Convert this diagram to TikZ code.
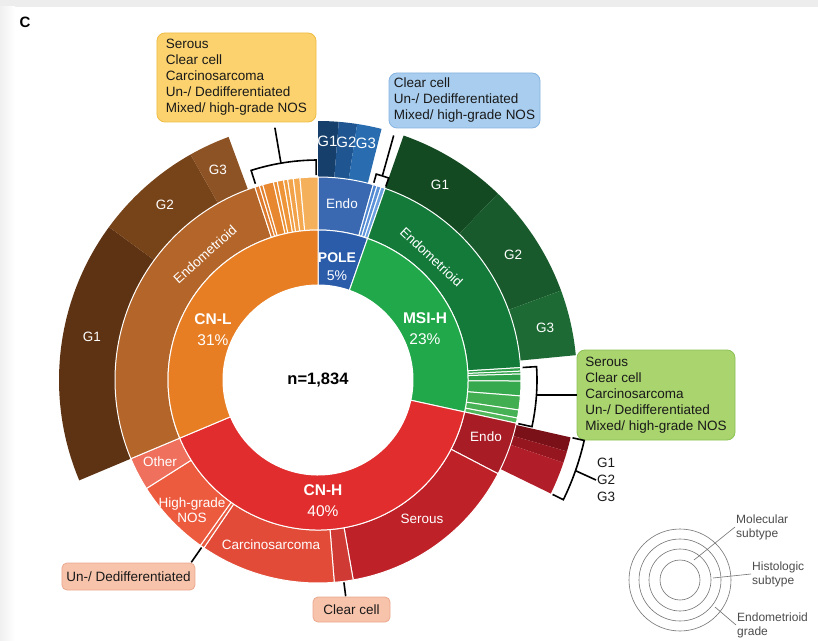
\documentclass[tikz,border=0pt]{standalone}
\usepackage{fontspec}
\setmainfont{Liberation Sans}
\usepackage{tikz}
\usetikzlibrary{positioning}
\definecolor{poleM}{HTML}{2A5CAA}
\definecolor{poleH}{HTML}{3A69B2}
\definecolor{poleA}{HTML}{4F86D0}
\definecolor{poleB}{HTML}{5B92D8}
\definecolor{poleC}{HTML}{6A9FE0}
\definecolor{poleGa}{HTML}{163F6B}
\definecolor{poleGb}{HTML}{1F5590}
\definecolor{poleGc}{HTML}{2A6CB0}
\definecolor{msiM}{HTML}{21A84B}
\definecolor{msiH}{HTML}{137A3A}
\definecolor{msiA}{HTML}{2E9E48}
\definecolor{msiB}{HTML}{32A34B}
\definecolor{msiC}{HTML}{2FA04A}
\definecolor{msiD}{HTML}{36A84D}
\definecolor{msiE}{HTML}{40AE51}
\definecolor{msiF}{HTML}{47B255}
\definecolor{msiG}{HTML}{50B75A}
\definecolor{msiGa}{HTML}{134A22}
\definecolor{msiGb}{HTML}{195A2C}
\definecolor{msiGc}{HTML}{1D6A34}
\definecolor{cnhM}{HTML}{E12D2D}
\definecolor{cnhEndo}{HTML}{A81C26}
\definecolor{cnhSer}{HTML}{BE2128}
\definecolor{cnhClear}{HTML}{D03A34}
\definecolor{cnhCarc}{HTML}{E24B37}
\definecolor{cnhUnd}{HTML}{E85A40}
\definecolor{cnhNos}{HTML}{ED5B3F}
\definecolor{cnhOther}{HTML}{EF705C}
\definecolor{cnhGa}{HTML}{7A1018}
\definecolor{cnhGb}{HTML}{961620}
\definecolor{cnhGc}{HTML}{B11D28}
\definecolor{cnlM}{HTML}{E87E23}
\definecolor{cnlH}{HTML}{B4662A}
\definecolor{cnlA}{HTML}{DD7A2E}
\definecolor{cnlB}{HTML}{E2822F}
\definecolor{cnlC}{HTML}{E78831}
\definecolor{cnlD}{HTML}{EB8F35}
\definecolor{cnlE}{HTML}{EE9539}
\definecolor{cnlF}{HTML}{F09C40}
\definecolor{cnlG}{HTML}{F2A248}
\definecolor{cnlI}{HTML}{F4A951}
\definecolor{cnlJ}{HTML}{F5B05B}
\definecolor{cnlGa}{HTML}{5E3313}
\definecolor{cnlGb}{HTML}{774319}
\definecolor{cnlGc}{HTML}{8E5325}
\definecolor{boxY}{HTML}{FBD26E}
\definecolor{boxYd}{HTML}{EEBC45}
\definecolor{boxB}{HTML}{A8CDEE}
\definecolor{boxBd}{HTML}{86B4E0}
\definecolor{boxG}{HTML}{A9D46E}
\definecolor{boxGd}{HTML}{8CC255}
\definecolor{boxR}{HTML}{F8C3AB}
\definecolor{boxRd}{HTML}{EBA88E}
% ring segment: from compass angle #1 to #2, radii #3 to #4, style #5
\newcommand{\ringseg}[5]{\fill[#5] ({90-(#1)}:#3) arc[start angle={90-(#1)}, end angle={90-(#2)}, radius=#3] -- ({90-(#2)}:#4) arc[start angle={90-(#2)}, end angle={90-(#1)}, radius=#4] -- cycle;}

\begin{document}
\begin{tikzpicture}[x=1pt,y=1pt]
    \tikzset{lbl/.style = {text=white, align=center, font=\fontsize{13.5}{16}\selectfont}}
    \tikzset{mol/.style = {text=white, align=center, font=\fontsize{15.5}{21}\selectfont}}
    \tikzset{callout/.style = {shape=rectangle, rounded corners=8pt, line width=0.8pt, align=left, text=black!90, font=\fontsize{13.5}{16}\selectfont}}
    \tikzset{sep/.style = {draw=white, line width=1pt}}
    \tikzset{edge/.style = {line width=1.6pt, black}}
    \tikzset{key/.style = {text=black!70, align=left, inner sep=1pt, font=\fontsize{12}{14}\selectfont}}
    \useasboundingbox (-318,-260) rectangle (500,380);
    \fill[white] (-318,-260) rectangle (500,380);
    \fill[black!7] (-318,373) rectangle (500,380);
    \shade[left color=black!6, right color=white] (-318,-260) rectangle (-303,373);
    \node[font=\bfseries\fontsize{15}{18}\selectfont] (panel) at (-293,358) {C};
    % endometrioid grade ring
    \ringseg{0}{4.6}{203}{259}{fill=poleGa}
    \ringseg{4.6}{8.7}{203}{259}{fill=poleGb}
    \ringseg{8.7}{14.2}{203}{259}{fill=poleGc}
    \ringseg{19.3}{44}{203}{259}{fill=msiGa}
    \ringseg{44}{69.8}{203}{259}{fill=msiGb}
    \ringseg{69.8}{84.5}{203}{259}{fill=msiGc}
    \ringseg{102.8}{106}{203}{259}{fill=cnhGa}
    \ringseg{106}{108.6}{203}{259}{fill=cnhGb}
    \ringseg{108.6}{116}{203}{259}{fill=cnhGc}
    \ringseg{247.2}{306.2}{203}{259}{fill=cnlGa}
    \ringseg{306.2}{330.5}{203}{259}{fill=cnlGb}
    \ringseg{330.5}{339.8}{203}{259}{fill=cnlGc}
    % histologic ring
    \ringseg{0}{15.8}{150}{203}{sep, fill=poleH}
    \ringseg{15.8}{16.9}{150}{203}{sep, fill=poleA}
    \ringseg{16.9}{18.1}{150}{203}{sep, fill=poleB}
    \ringseg{18.1}{19.3}{150}{203}{sep, fill=poleC}
    \ringseg{19.3}{86.5}{150}{203}{sep, fill=msiH}
    \ringseg{86.5}{87.5}{150}{203}{sep, fill=msiA}
    \ringseg{87.5}{88.3}{150}{203}{sep, fill=msiB}
    \ringseg{88.3}{90.3}{150}{203}{sep, fill=msiC}
    \ringseg{90.3}{94.5}{150}{203}{sep, fill=msiD}
    \ringseg{94.5}{98.5}{150}{203}{sep, fill=msiE}
    \ringseg{98.5}{100.8}{150}{203}{sep, fill=msiF}
    \ringseg{100.8}{102.3}{150}{203}{sep, fill=msiG}
    \ringseg{102.3}{117.5}{150}{203}{sep, fill=cnhEndo}
    \ringseg{117.5}{170}{150}{203}{sep, fill=cnhSer}
    \ringseg{170}{175.4}{150}{203}{sep, fill=cnhClear}
    \ringseg{175.4}{214.2}{150}{203}{sep, fill=cnhCarc}
    \ringseg{214.2}{215.4}{150}{203}{sep, fill=cnhUnd}
    \ringseg{215.4}{237.7}{150}{203}{sep, fill=cnhNos}
    \ringseg{237.7}{247.2}{150}{203}{sep, fill=cnhOther}
    \ringseg{247.2}{341.9}{150}{203}{sep, fill=cnlH}
    \ringseg{341.9}{343.2}{150}{203}{sep, fill=cnlA}
    \ringseg{343.2}{344.2}{150}{203}{sep, fill=cnlB}
    \ringseg{344.2}{347.3}{150}{203}{sep, fill=cnlC}
    \ringseg{347.3}{348.4}{150}{203}{sep, fill=cnlD}
    \ringseg{348.4}{350.2}{150}{203}{sep, fill=cnlE}
    \ringseg{350.2}{351.4}{150}{203}{sep, fill=cnlF}
    \ringseg{351.4}{353.0}{150}{203}{sep, fill=cnlG}
    \ringseg{353.0}{354.9}{150}{203}{sep, fill=cnlI}
    \ringseg{354.9}{360}{150}{203}{sep, fill=cnlJ}
    % molecular ring
    \ringseg{0}{19.3}{95}{150}{sep, fill=poleM}
    \ringseg{19.3}{102.3}{95}{150}{sep, fill=msiM}
    \ringseg{102.3}{247.2}{95}{150}{sep, fill=cnhM}
    \ringseg{247.2}{360}{95}{150}{sep, fill=cnlM}
    \fill[white] (0,0) circle[radius=95];
    % vertices
    \node[font=\bfseries\fontsize{16.5}{20}\selectfont] (n) at (0,0) {n=1,834};
    \node[mol, font=\fontsize{14}{18}\selectfont] (pole) at (19,113) {\textbf{POLE}\\5\%};
    \node[mol] (msi) at (107,51) {\textbf{MSI-H}\\23\%};
    \node[mol] (cnl) at (-105,50) {\textbf{CN-L}\\31\%};
    \node[mol] (cnh) at (5,-121) {\textbf{CN-H}\\40\%};
    \node[lbl] (poleendo) at (24,176) {Endo};
    \node[lbl, rotate=42] (cnlendo) at (-113,126) {Endometrioid};
    \node[lbl, rotate=-43] (msiendo) at (113.5,123) {Endometrioid};
    \node[lbl] (cnhendo) at (168,-57) {Endo};
    \node[lbl] (serous) at (104,-139) {Serous};
    \node[lbl] (carcino) at (-47,-165) {Carcinosarcoma};
    \node[lbl, font=\fontsize{13.5}{15}\selectfont] (hgnos) at (-126,-130) {High-grade\\NOS};
    \node[lbl] (other) at (-158,-82) {Other};
    \node[lbl] (cnlg1) at (-226,43) {G1};
    \node[lbl] (cnlg2) at (-153,175) {G2};
    \node[lbl] (cnlg3) at (-100,210) {G3};
    \node[lbl] (msig1) at (122,195) {G1};
    \node[lbl] (msig2) at (195,125) {G2};
    \node[lbl] (msig3) at (227,52) {G3};
    \node[lbl, inner sep=0pt, font=\fontsize{15}{18}\selectfont] (poleg1) at (9.5,239) {G1};
    \node[lbl, inner sep=0pt, font=\fontsize{15}{18}\selectfont] (poleg2) at (28.5,238) {G2};
    \node[lbl, inner sep=0pt, font=\fontsize{15}{18}\selectfont] (poleg3) at (48,237) {G3};
    % callouts
    \node[callout, fill=boxY, draw=boxYd, minimum width=159pt, minimum height=89pt] (ybox) at (-81.5,302.5) {Serous\\Clear cell\\Carcinosarcoma\\Un-/ Dedifferentiated\\Mixed/ high-grade NOS};
    \node[callout, fill=boxB, draw=boxBd, minimum width=151pt, minimum height=55pt] (bbox) at (146.5,279.5) {Clear cell\\Un-/ Dedifferentiated\\Mixed/ high-grade NOS};
    \node[callout, fill=boxG, draw=boxGd, minimum width=158pt, minimum height=90pt] (gbox) at (338,-15) {Serous\\Clear cell\\Carcinosarcoma\\Un-/ Dedifferentiated\\Mixed/ high-grade NOS};
    \node[callout, fill=boxR, draw=boxRd, rounded corners=5pt, minimum width=133pt, minimum height=27pt] (ubox) at (-189.5,-196.5) {Un-/ Dedifferentiated};
    \node[callout, fill=boxR, draw=boxRd, rounded corners=5pt, minimum width=77pt, minimum height=25pt] (cbox) at (33.5,-229.5) {Clear cell};
    \node[align=left, anchor=west, inner sep=1pt, text=black!90, font=\fontsize{13.5}{17}\selectfont] (grades) at (278,-100) {G1\\G2\\G3};
    % brackets
    \coordinate (y1) at ({90-342.3}:206);
    \coordinate (y2) at ({90-359.5}:205);
    \coordinate (ym) at ({90-350.3}:220);
    \coordinate (yt) at ({90-350.3}:256);
    \draw[edge] (y1) -- ({90-342.3}:220) arc[start angle={90-342.3}, end angle={90-359.5}, radius=220] -- (y2);
    \draw[edge] (ym) -- (yt);
    \coordinate (b1) at ({90-15.8}:205);
    \coordinate (b2) at ({90-19.3}:205);
    \coordinate (bm) at ({90-17.5}:214);
    \coordinate (bt) at ({90-17.2}:256);
    \draw[edge] (b1) -- ({90-15.8}:214) arc[start angle={90-15.8}, end angle={90-19.3}, radius=214] -- (b2);
    \draw[edge] (bm) -- (bt);
    \coordinate (g1) at ({90-86.5}:205);
    \coordinate (g2) at ({90-102.3}:205);
    \coordinate (gm) at ({90-94}:219);
    \draw[edge] (g1) -- ({90-86.5}:219) arc[start angle={90-86.5}, end angle={90-102.3}, radius=219] -- (g2);
    \draw[edge] (gm) -- (gbox.west |- gm);
    \coordinate (r1) at ({90-102.8}:261);
    \coordinate (r2) at ({90-116}:261);
    \coordinate (rm) at ({90-109.4}:273);
    \draw[edge] (r1) -- ({90-102.8}:273) arc[start angle={90-102.8}, end angle={90-116}, radius=273] -- (r2);
    \draw[edge] (rm) -- (grades.west);
    \coordinate (u1) at ({90-214.8}:204);
    \coordinate (u2) at ({90-214.8}:222);
    \draw[edge] (u1) -- (u2);
    \coordinate (c1) at ({90-172.7}:204);
    \coordinate (c2) at ({90-172.7}:218);
    \draw[edge] (c1) -- (c2);
    % legend
    \coordinate (lc) at (362,-200);
    \foreach \r in {20,31,41,51} \draw[black!55, line width=0.6pt] (lc) circle[radius=\r];
    \node[key, anchor=west] (lmol) at (417,-147) {Molecular\\subtype};
    \node[key, anchor=west] (lhis) at (433,-194) {Histologic\\subtype};
    \node[key, anchor=west] (lgra) at (418,-245) {Endometrioid\\grade};
    \coordinate (l1) at (376,-180);
    \coordinate (l2) at (395,-198);
    \coordinate (l3) at (397,-227);
    \draw[black!55, line width=0.6pt] (l1) -- (lmol.west);
    \draw[black!55, line width=0.6pt] (l2) -- (lhis.west);
    \draw[black!55, line width=0.6pt] (l3) -- (lgra.west);
\end{tikzpicture}
\end{document}
